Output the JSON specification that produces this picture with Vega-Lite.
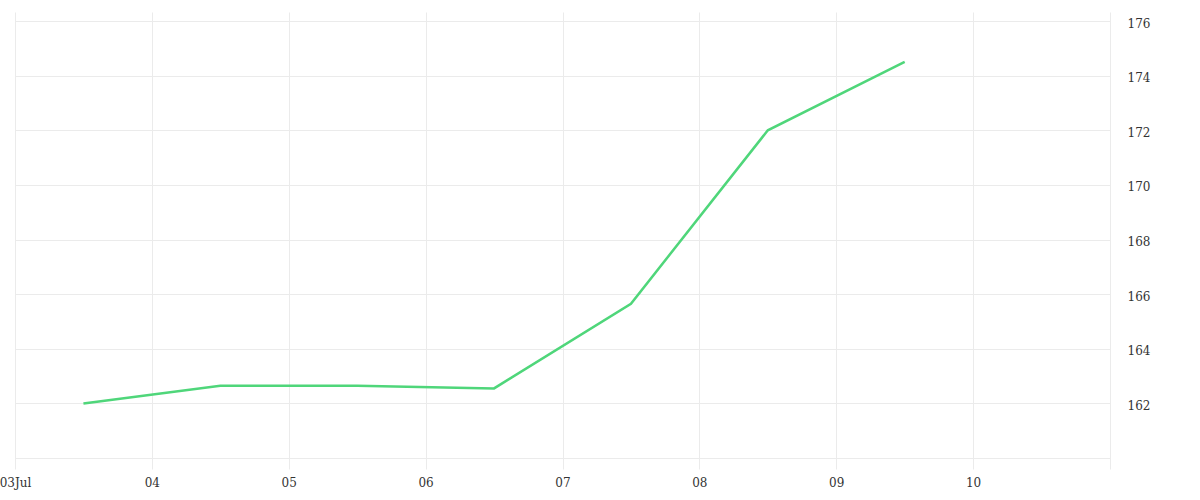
{
  "$schema": "https://vega.github.io/schema/vega-lite/v6.json",
  "width": 1095,
  "height": 457,
  "autosize": {"type": "none"},
  "padding": {"left": 15, "top": 12, "right": 90, "bottom": 31},
  "background": "#ffffff",
  "config": {
    "view": {"stroke": null},
    "font": "DejaVu Serif"
  },
  "data": {
    "values": [
      {"date": "2024-07-03T12:00:00Z", "value": 162.0},
      {"date": "2024-07-04T12:00:00Z", "value": 162.65},
      {"date": "2024-07-05T12:00:00Z", "value": 162.65},
      {"date": "2024-07-06T12:00:00Z", "value": 162.55},
      {"date": "2024-07-07T12:00:00Z", "value": 165.65},
      {"date": "2024-07-08T12:00:00Z", "value": 172.0},
      {"date": "2024-07-09T12:00:00Z", "value": 174.5}
    ]
  },
  "mark": {"type": "line", "color": "#4fd67a", "strokeWidth": 2.5},
  "encoding": {
    "x": {
      "field": "date",
      "type": "temporal",
      "scale": {
        "type": "utc",
        "domain": [
          {"year": 2024, "month": 7, "date": 3, "utc": true},
          {"year": 2024, "month": 7, "date": 11, "utc": true}
        ]
      },
      "axis": {
        "title": null,
        "tickCount": "day",
        "domain": false,
        "ticks": false,
        "grid": true,
        "gridColor": "#ebebeb",
        "gridWidth": 1,
        "labelFont": "DejaVu Serif",
        "labelFontSize": 12,
        "labelColor": "#333333",
        "labelPadding": 8,
        "labelFlush": false,
        "labelOverlap": false,
        "labelExpr": "utcFormat(datum.value, '%d') == '03' ? '03Jul' : (utcFormat(datum.value, '%d') == '11' ? '' : utcFormat(datum.value, '%d'))"
      }
    },
    "y": {
      "field": "value",
      "type": "quantitative",
      "scale": {"domain": [159.6, 176.33], "nice": false, "zero": false},
      "axis": {
        "title": null,
        "orient": "right",
        "values": [160, 162, 164, 166, 168, 170, 172, 174, 176],
        "domain": false,
        "ticks": false,
        "grid": true,
        "gridColor": "#ebebeb",
        "gridWidth": 1,
        "labelFont": "DejaVu Serif",
        "labelFontSize": 12,
        "labelColor": "#333333",
        "labelPadding": 17,
        "labelOffset": 2,
        "labelAlign": "left",
        "labelExpr": "datum.value == 160 ? '' : datum.label"
      }
    }
  }
}
